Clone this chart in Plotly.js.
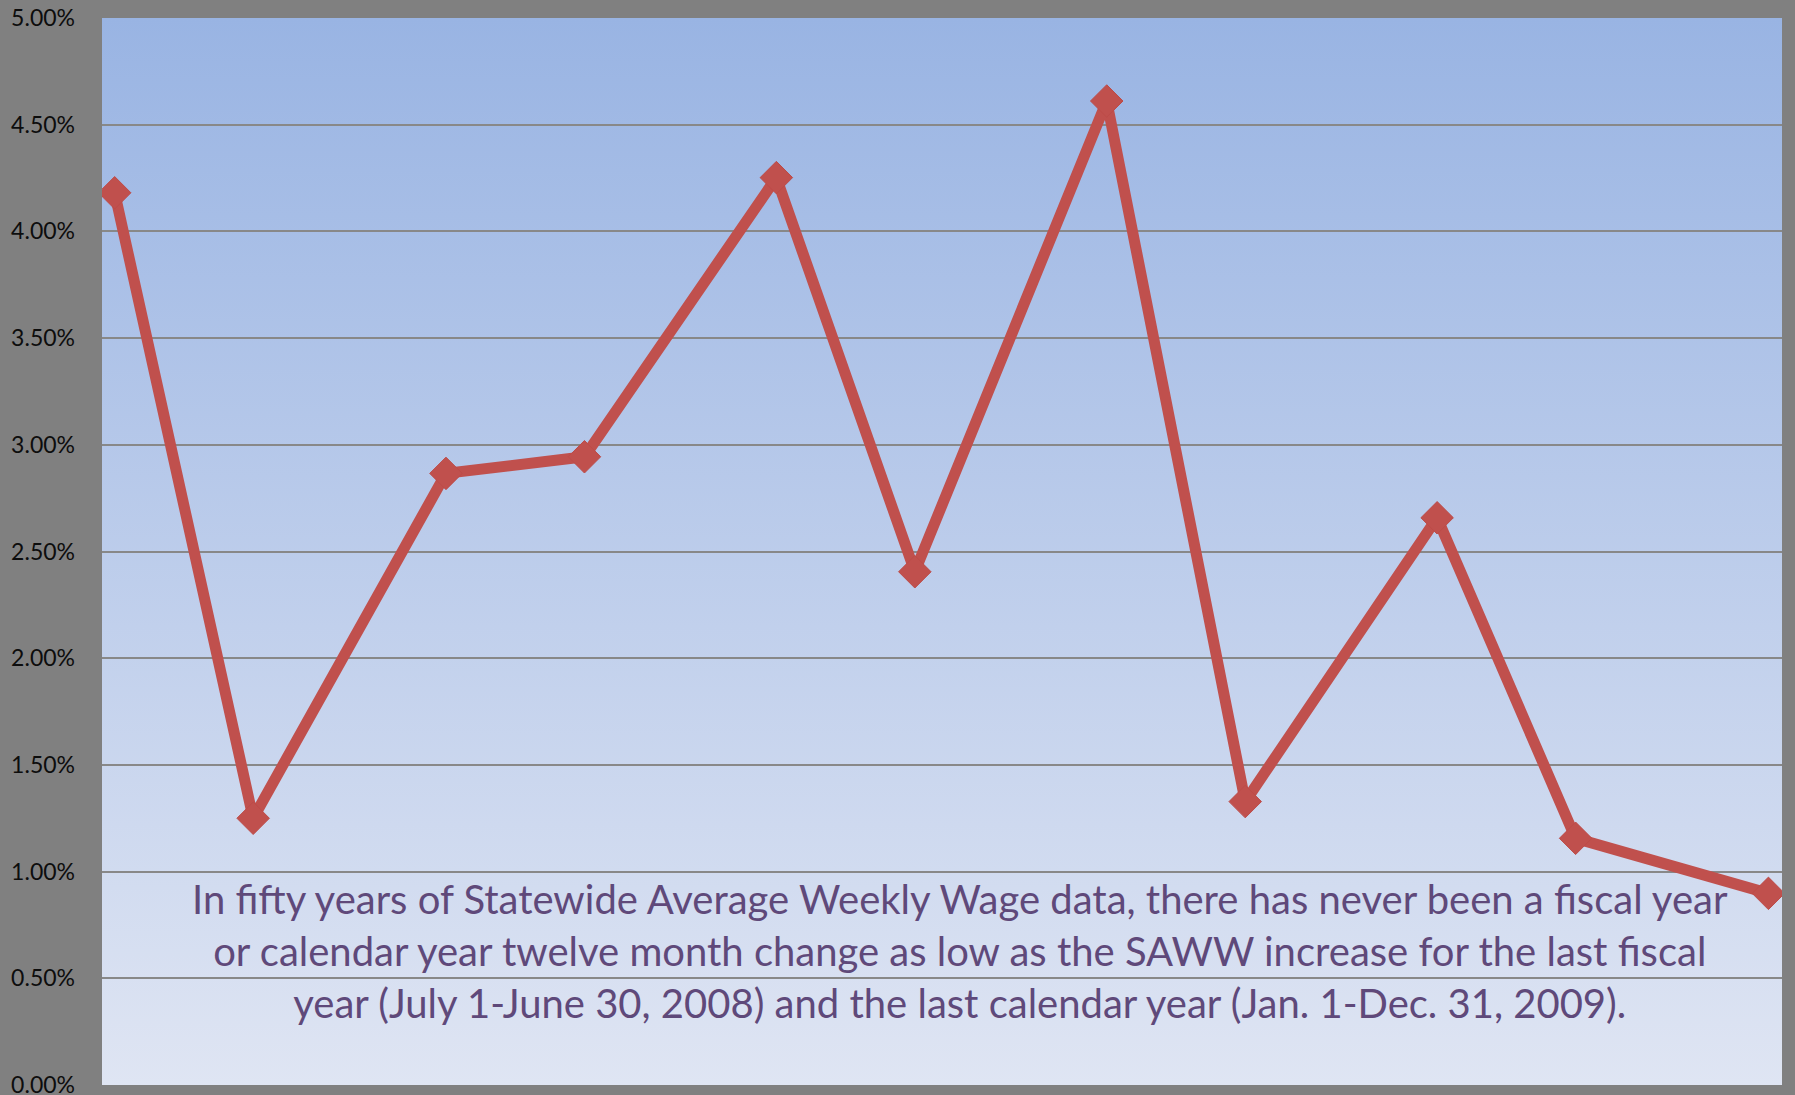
<!DOCTYPE html>
<html>
<head>
<meta charset="utf-8">
<script src="https://cdn.plot.ly/plotly-3.0.1.min.js"></script>
<style>
  html, body { margin: 0; padding: 0; background: #808080; }
  #chart { width: 1795px; height: 1095px; }
</style>
</head>
<body>
<div id="chart"></div>
<script>
// Period end points (fiscal / calendar alternating)
const periods = ['2003-07-01', '2003-12-01', '2004-07-01', '2004-12-01', '2005-07-01',
                 '2005-12-01', '2006-07-01', '2006-12-01', '2007-07-01', '2007-12-01', '2008-07-01'];
// SAWW twelve month change (fraction)
const sawwChange = [0.04181, 0.01250, 0.02866, 0.02944, 0.04252,
                    0.02405, 0.04611, 0.01328, 0.02658, 0.01156, 0.00898];
const yTickVals = [0, 0.005, 0.01, 0.015, 0.02, 0.025, 0.03, 0.035, 0.04, 0.045, 0.05];
const yTickText = ['0.00%', '0.50%', '1.00%', '1.50%', '2.00%', '2.50%', '3.00%', '3.50%', '4.00%', '4.50%', '5.00%'];
const noteText = 'In fifty years of Statewide Average Weekly Wage data, there has never been a fiscal year<br>' +
                 'or calendar year twelve month change as low as the SAWW increase for the last fiscal<br>' +
                 'year (July 1-June 30, 2008) and the last calendar year (Jan. 1-Dec. 31, 2009).';

const gradSvg = "<svg xmlns='http://www.w3.org/2000/svg' width='100' height='100' preserveAspectRatio='none'>" +
  "<defs><linearGradient id='g' x1='0' y1='0' x2='0' y2='1'>" +
  "<stop offset='0' stop-color='#99b4e3'/><stop offset='1' stop-color='#dfe5f3'/>" +
  "</linearGradient></defs><rect width='100' height='100' fill='url(#g)'/></svg>";
const gradUri = 'data:image/svg+xml;charset=utf-8,' + encodeURIComponent(gradSvg);

const trace = {
  x: periods,
  y: sawwChange,
  type: 'scatter',
  mode: 'lines+markers',
  line: { color: '#c0504d', width: 11 },
  marker: { symbol: 'diamond', size: 25, color: '#c0504d', line: { color: '#bd4b48', width: 1 } },
  hoverinfo: 'skip'
};

const layout = {
  width: 1795,
  height: 1095,
  margin: { l: 102, r: 13, t: 18, b: 10 },
  paper_bgcolor: '#808080',
  plot_bgcolor: 'rgba(0,0,0,0)',
  showlegend: false,
  font: { family: 'Lato, "Open Sans", sans-serif', color: '#000000' },
  xaxis: {
    type: 'date',
    range: ['2003-06-17', '2008-07-16'],
    showgrid: false,
    showticklabels: false,
    zeroline: false,
    showline: false,
    ticks: ''
  },
  yaxis: {
    range: [0, 0.05],
    tickvals: yTickVals,
    ticktext: yTickText,
    showgrid: true,
    gridcolor: '#888888',
    gridwidth: 2,
    zeroline: false,
    showline: false,
    ticks: '',
    ticklabelstandoff: 26,
    ticklabeloverflow: 'allow',
    tickfont: { family: 'Lato, sans-serif', size: 23, color: '#0d0d0d' }
  },
  images: [{
    source: gradUri,
    xref: 'paper', yref: 'paper',
    x: 0, y: 1, sizex: 1, sizey: 1,
    xanchor: 'left', yanchor: 'top',
    sizing: 'stretch',
    layer: 'below'
  }],
  annotations: [{
    xref: 'paper', yref: 'paper',
    x: 0.5107, y: 0.126,
    xanchor: 'center', yanchor: 'middle',
    text: noteText,
    showarrow: false,
    align: 'center',
    font: { family: 'Lato, sans-serif', size: 40, color: '#5f497a' }
  }]
};

Plotly.newPlot('chart', [trace], layout, { displayModeBar: false, staticPlot: true });
</script>
</body>
</html>
